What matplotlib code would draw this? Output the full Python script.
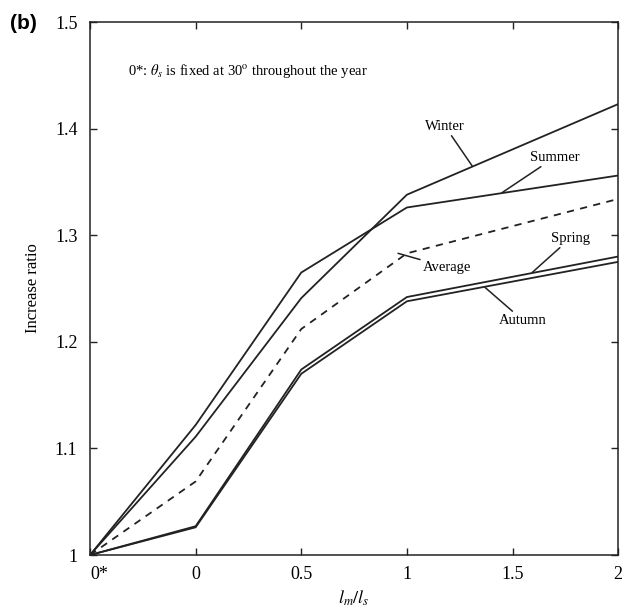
import matplotlib
matplotlib.use("Agg")
import matplotlib.pyplot as plt

plt.rcParams['font.family'] = ['Liberation Serif', 'DejaVu Serif']
plt.rcParams['mathtext.fontset'] = 'stix'

# x positions: 0* is drawn half a unit left of 0
x_pos = [-0.5, 0, 0.5, 1, 2]
x_ticks = [-0.5, 0, 0.5, 1, 1.5, 2]
x_labels = ['0*', '0', '0.5', '1', '1.5', '2']
y_ticks = [1.0, 1.1, 1.2, 1.3, 1.4, 1.5]
y_labels = ['1', '1.1', '1.2', '1.3', '1.4', '1.5']

winter = [1.0, 1.111, 1.241, 1.338, 1.423]
summer = [1.0, 1.122, 1.265, 1.326, 1.356]
average = [1.0, 1.069, 1.212, 1.283, 1.334]
spring = [1.0, 1.027, 1.174, 1.242, 1.280]
autumn = [1.0, 1.026, 1.170, 1.238, 1.275]

fig = plt.figure(figsize=(6.34, 6.13), dpi=100)
ax = fig.add_axes([0.142, 0.0946, 0.833, 0.8695])

lw = 1.3
ax.plot(x_pos, winter, color='#222222', linewidth=lw)
ax.plot(x_pos, summer, color='#222222', linewidth=lw)
ax.plot(x_pos, average, color='#222222', linewidth=lw, linestyle=(0, (4, 3.5)))
ax.plot(x_pos, spring, color='#222222', linewidth=lw)
ax.plot(x_pos, autumn, color='#222222', linewidth=lw)

ax.set_xlim(-0.5, 2)
ax.set_ylim(1.0, 1.5)
ax.set_xticks(x_ticks)
ax.set_xticklabels(x_labels, fontsize=13)
ax.get_xticklabels()[0].set_horizontalalignment('left')
ax.set_yticks(y_ticks)
ax.set_yticklabels(y_labels, fontsize=13)
ax.tick_params(direction='in', length=5, width=1, top=True, right=True,
               labeltop=False, labelright=False, color='#222222')
ax.tick_params(axis='x', pad=8)
ax.tick_params(axis='y', pad=9)
for s in ax.spines.values():
    s.set_linewidth(1.1)
    s.set_color('#222222')

ax.set_xlabel(r'$l_m/l_s$', fontsize=13, labelpad=4)
ax.set_ylabel('Increase ratio', fontsize=12, labelpad=10)

ax.text(-0.32, 1.454, r'0*: $\theta_s$ is fixed at 30$^{\rm o}$ throughout the year',
        fontsize=10.5, va='center', ha='left')

# series labels with leader lines
arrow = dict(arrowstyle='-', color='#222222', lw=1.1, shrinkA=0, shrinkB=0)
ax.annotate('Winter', xy=(1.309, 1.365), xytext=(1.181, 1.402),
            fontsize=10.5, ha='center', va='center', arrowprops=arrow)
ax.annotate('Summer', xy=(1.451, 1.340), xytext=(1.70, 1.373),
            fontsize=10.5, ha='center', va='center', arrowprops=arrow)
ax.annotate('Average', xy=(0.958, 1.283), xytext=(1.19, 1.270),
            fontsize=10.5, ha='center', va='center', arrowprops=arrow)
ax.annotate('Spring', xy=(1.593, 1.265), xytext=(1.773, 1.297),
            fontsize=10.5, ha='center', va='center', arrowprops=arrow)
ax.annotate('Autumn', xy=(1.370, 1.251), xytext=(1.55, 1.220),
            fontsize=10.5, ha='center', va='center', arrowprops=arrow)

fig.text(0.015, 0.962, '(b)', fontsize=15, fontweight='bold',
         family='Liberation Sans', va='center', ha='left')

fig.savefig('out.png', dpi=100)
